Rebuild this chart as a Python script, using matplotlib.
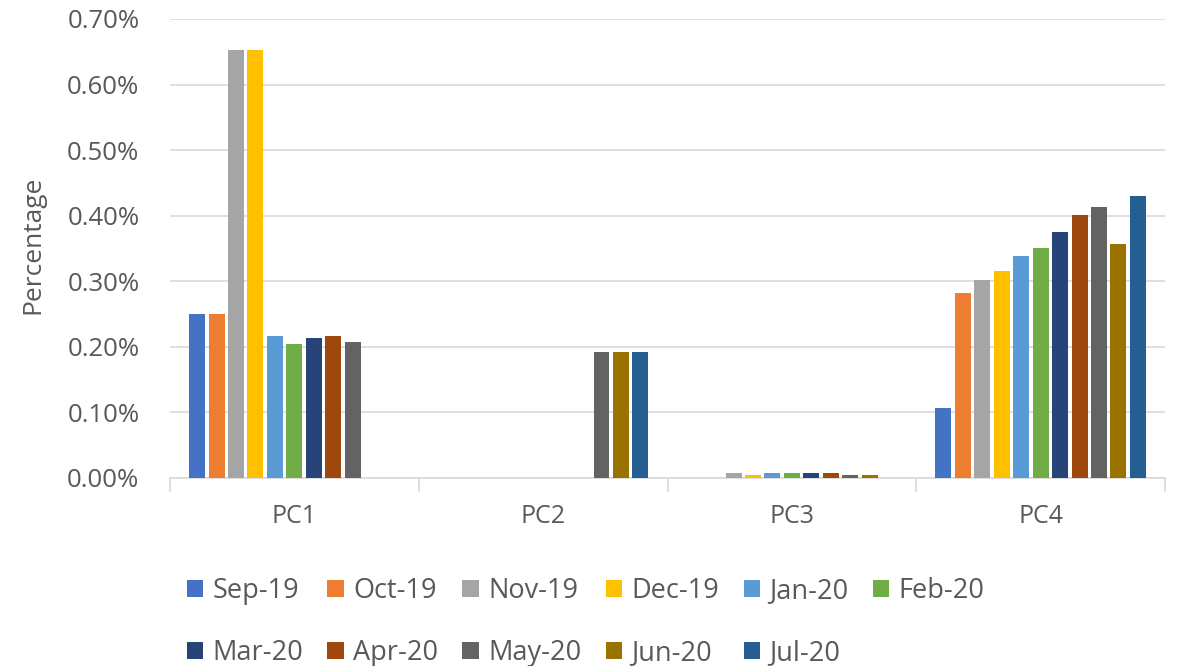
import matplotlib
matplotlib.use("Agg")
import matplotlib.pyplot as plt
from matplotlib.ticker import FuncFormatter
import numpy as np

plt.rcParams["font.family"] = ["Open Sans", "DejaVu Sans"]

# categories and months
groups = ["PC1", "PC2", "PC3", "PC4"]
months = ["Sep-19", "Oct-19", "Nov-19", "Dec-19", "Jan-20", "Feb-20",
          "Mar-20", "Apr-20", "May-20", "Jun-20", "Jul-20"]

# values in percent, one list per month (PC1, PC2, PC3, PC4)
sep19 = [0.250, 0.0, 0.0, 0.107]
oct19 = [0.250, 0.0, 0.0, 0.282]
nov19 = [0.652, 0.0, 0.008, 0.302]
dec19 = [0.652, 0.0, 0.004, 0.316]
jan20 = [0.216, 0.0, 0.007, 0.338]
feb20 = [0.204, 0.0, 0.007, 0.351]
mar20 = [0.213, 0.0, 0.007, 0.375]
apr20 = [0.216, 0.0, 0.007, 0.401]
may20 = [0.208, 0.192, 0.005, 0.414]
jun20 = [0.0, 0.192, 0.005, 0.357]
jul20 = [0.0, 0.192, 0.0, 0.430]

series = [sep19, oct19, nov19, dec19, jan20, feb20,
          mar20, apr20, may20, jun20, jul20]

colors = ["#4472C4", "#ED7D31", "#A5A5A5", "#FFC000", "#5B9BD5", "#70AD47",
          "#264478", "#9E480E", "#636363", "#997300", "#255E91"]

TEXT = "#595959"

fig = plt.figure(figsize=(11.78, 6.66), dpi=100)
ax = fig.add_axes([0.1443, 0.2823, 0.8447, 0.6892])

n = len(months)
x = np.arange(len(groups))
slot = 0.86 / n
bw = slot * 0.82

handles = []
for i, (vals, c) in enumerate(zip(series, colors)):
    off = -0.43 + slot * (i + 0.5)
    b = ax.bar(x + off, vals, bw, color=c, label=months[i], zorder=3)
    handles.append(b)

ax.set_xlim(-0.5, len(groups) - 0.5)
ax.set_ylim(0, 0.70)
ax.set_yticks(np.arange(0, 0.71, 0.10))
ax.yaxis.set_major_formatter(FuncFormatter(lambda v, p: "%.2f%%" % v))
ax.grid(axis="y", color="#d9d9d9", linewidth=1.2, zorder=0)

# tick marks at category boundaries, labels at centres
ax.set_xticks(np.arange(-0.5, len(groups), 1.0))
ax.set_xticklabels([])
ax.set_xticks(x, minor=True)
ax.set_xticklabels(groups, minor=True)
ax.tick_params(axis="x", which="major", length=10, color="#d9d9d9", width=1.2)
ax.tick_params(axis="x", which="minor", length=0, pad=19, labelsize=18, labelcolor=TEXT)
ax.tick_params(axis="y", length=0, pad=22, labelsize=18.5, labelcolor=TEXT)

for s in ["left", "right", "top"]:
    ax.spines[s].set_visible(False)
ax.spines["bottom"].set_color("#d9d9d9")
ax.spines["bottom"].set_linewidth(1.2)

fig.text(0.028, 0.632, "Percentage", rotation=90, fontsize=19,
         color=TEXT, ha="center", va="center")

# legend: reorder so the column-major fill shows row by row
order = [0, 6, 1, 7, 2, 8, 3, 9, 4, 10, 5]
leg = fig.legend([handles[i] for i in order], [months[i] for i in order],
                 ncol=6, loc="center", bbox_to_anchor=(0.497, 0.066),
                 frameon=False, fontsize=19.5, handlelength=0.6, handleheight=0.6,
                 handletextpad=0.35, columnspacing=0.9, labelspacing=1.25)
for t in leg.get_texts():
    t.set_color(TEXT)

fig.savefig("out.png", dpi=100)
